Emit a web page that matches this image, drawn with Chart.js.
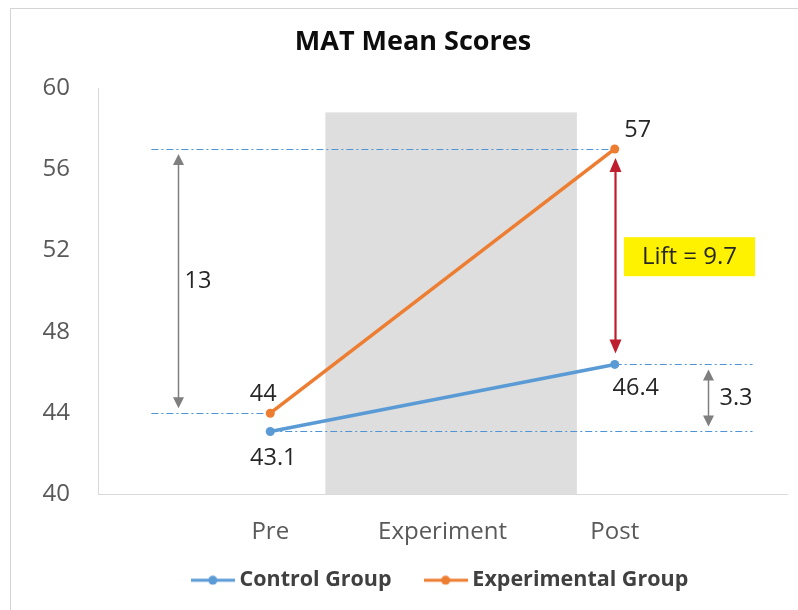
<!DOCTYPE html>
<html>
<head>
<meta charset="utf-8">
<script src="https://cdn.jsdelivr.net/npm/chart.js@4.4.1/dist/chart.umd.min.js"></script>
<style>
  html, body { margin: 0; padding: 0; background: #fff; overflow: hidden; }
  #frame {
    position: absolute; left: 10px; top: 8px;
    width: 806px; height: 602px;
    border-top: 1px solid #d4d4d4; border-left: 1px solid #d4d4d4;
  }
  canvas { display: block; }
</style>
</head>
<body>
<div id="frame"><canvas id="chart" width="806" height="601"></canvas></div>
<script>
// ---- data ----
const categories = ["", "Pre", "Experiment", "Post", ""];
const controlScores = [null, 43.1, null, 46.4, null];
const experimentalScores = [null, 44, null, 57, null];
const yMin = 40;
const yMax = 60;
const yStep = 4;

// shaded experiment period (category units) and its top value
const bandSpan = [1.32, 2.78];
const bandTop = 58.8;

// dash-dot guide lines: [value, from, to] in category units
const guideLines = [
  [57, 0.31, 3],
  [44, 0.31, 1],
  [46.4, 3, 3.8],
  [43.1, 1, 3.8],
];

// gap arrows: x in category units, from/to values
const gapArrows = [
  { at: 0.465, from: 57, to: 44, text: "13" },
  { at: 3.54, from: 46.4, to: 43.1, text: "3.3" },
];
const liftArrow = { at: 3, from: 57, to: 46.4, text: "Lift = 9.7" };

const BLUE = "#5B9BD5";
const ORANGE = "#ED7D31";
const FONT = "'Open Sans', Lato, sans-serif";

// legend icon: short line with a dot in the middle
function legendIcon(color) {
  const c = document.createElement("canvas");
  c.width = 44;
  c.height = 10;
  const g = c.getContext("2d");
  g.strokeStyle = color;
  g.lineWidth = 3;
  g.beginPath();
  g.moveTo(0, 5);
  g.lineTo(44, 5);
  g.stroke();
  g.fillStyle = color;
  g.beginPath();
  g.arc(22, 5, 4.5, 0, Math.PI * 2);
  g.fill();
  return c;
}

function head(ctx, x, y, dir, w, len) {
  // dir -1: tip points up, +1: tip points down
  ctx.beginPath();
  ctx.moveTo(x, y);
  ctx.lineTo(x - w / 2, y - dir * len);
  ctx.lineTo(x + w / 2, y - dir * len);
  ctx.closePath();
  ctx.fill();
}

function doubleArrow(ctx, x, yTop, yBot, color, lw, hw, hl) {
  ctx.save();
  ctx.strokeStyle = color;
  ctx.fillStyle = color;
  ctx.lineWidth = lw;
  ctx.beginPath();
  ctx.moveTo(x, yTop + hl - 1);
  ctx.lineTo(x, yBot - hl + 1);
  ctx.stroke();
  head(ctx, x, yTop, -1, hw, hl);
  head(ctx, x, yBot, 1, hw, hl);
  ctx.restore();
}

const annotations = {
  id: "annotations",
  afterLayout(chart) {
    // the x axis box is kept short so the legend sits close; let its labels
    // run past the box instead of being clipped
    chart.scales.x.bottom = chart.height;
  },
  beforeDatasetsDraw(chart) {
    const { ctx, scales: { x, y } } = chart;
    // grey band
    ctx.save();
    ctx.fillStyle = "#DEDEDE";
    const bx0 = x.getPixelForValue(bandSpan[0]);
    const bx1 = x.getPixelForValue(bandSpan[1]);
    const by0 = y.getPixelForValue(bandTop);
    const by1 = y.getPixelForValue(yMin);
    ctx.fillRect(bx0, by0, bx1 - bx0, by1 - by0);

    // dash-dot guide lines
    ctx.strokeStyle = "#4F95D6";
    ctx.lineWidth = 1;
    ctx.setLineDash([7, 3, 2, 3]);
    guideLines.forEach(([v, a, b]) => {
      const py = Math.round(y.getPixelForValue(v)) + 0.5;
      ctx.beginPath();
      ctx.moveTo(x.getPixelForValue(a), py);
      ctx.lineTo(x.getPixelForValue(b), py);
      ctx.stroke();
    });
    ctx.restore();
  },
  afterDatasetsDraw(chart) {
    const { ctx, scales: { x, y } } = chart;
    ctx.save();

    // grey gap arrows and their labels
    gapArrows.forEach((g, i) => {
      const px = Math.round(x.getPixelForValue(g.at)) + 0.5;
      const top = y.getPixelForValue(g.from) + 5;
      const bot = y.getPixelForValue(g.to) - 5;
      doubleArrow(ctx, px, top, bot, "#7F7F7F", 1.5, 11, 11);
      ctx.fillStyle = "#262626";
      ctx.font = "23.5px " + FONT;
      ctx.textAlign = "left";
      ctx.textBaseline = "middle";
      ctx.fillText(g.text, px + (i === 0 ? 6 : 11), (top + bot) / 2);
    });

    // red lift arrow
    const lx = Math.round(x.getPixelForValue(liftArrow.at)) + 0.5;
    const lTop = y.getPixelForValue(liftArrow.from) + 9;
    const lBot = y.getPixelForValue(liftArrow.to) - 11;
    doubleArrow(ctx, lx, lTop, lBot, "#BE1E2D", 2.2, 12, 14);

    // lift label box
    ctx.font = "24px " + FONT;
    const tw = ctx.measureText(liftArrow.text).width;
    const cx = lx + 74;
    const cy = (y.getPixelForValue(liftArrow.from) + y.getPixelForValue(liftArrow.to)) / 2;
    const bw = tw + 36;
    const bh = 39;
    ctx.fillStyle = "#FFF200";
    ctx.fillRect(cx - bw / 2, cy - bh / 2, bw, bh);
    ctx.fillStyle = "#262626";
    ctx.textAlign = "center";
    ctx.textBaseline = "middle";
    ctx.fillText(liftArrow.text, cx, cy);

    // data labels
    ctx.font = "23.5px " + FONT;
    const offsets = [
      [[0, 0], [3, 27], [0, 0], [21, 24], [0, 0]],
      [[0, 0], [-7, -19], [0, 0], [23, -19], [0, 0]],
    ];
    chart.data.datasets.forEach((ds, di) => {
      const meta = chart.getDatasetMeta(di);
      meta.data.forEach((pt, i) => {
        const v = ds.data[i];
        if (v === null) return;
        ctx.fillText(String(v), pt.x + offsets[di][i][0], pt.y + offsets[di][i][1]);
      });
    });
    ctx.restore();
  },
};

new Chart(document.getElementById("chart"), {
  type: "line",
  data: {
    labels: categories,
    datasets: [
      {
        label: "Control Group",
        data: controlScores,
        borderColor: BLUE,
        backgroundColor: BLUE,
        borderWidth: 3.5,
        pointRadius: 4.5,
        pointBorderWidth: 0,
        spanGaps: true,
        tension: 0,
      },
      {
        label: "Experimental Group",
        data: experimentalScores,
        borderColor: ORANGE,
        backgroundColor: ORANGE,
        borderWidth: 3.5,
        pointRadius: 4.5,
        pointBorderWidth: 0,
        spanGaps: true,
        tension: 0,
      },
    ],
  },
  options: {
    responsive: false,
    animation: false,
    devicePixelRatio: 1,
    layout: { padding: { left: 28, right: 30, top: 0, bottom: 9 } },
    plugins: {
      tooltip: { enabled: false },
      title: {
        display: true,
        text: "MAT Mean Scores",
        color: "#0D0D0D",
        font: { family: FONT, size: 27, weight: "bold", lineHeight: 1.2 },
        padding: { top: 16.8, bottom: 29.8 },
      },
      legend: {
        position: "bottom",
        fullSize: false,
        labels: {
          color: "#404040",
          font: { family: FONT, size: 21.5, weight: "bold" },
          usePointStyle: true,
          pointStyleWidth: 32,
          padding: 38,
          generateLabels(chart) {
            const items = Chart.defaults.plugins.legend.labels.generateLabels(chart);
            items.forEach((it) => {
              it.pointStyle = legendIcon(chart.data.datasets[it.datasetIndex].borderColor);
            });
            return items;
          },
        },
      },
    },
    scales: {
      x: {
        type: "category",
        offset: false,
        grid: { display: false, drawTicks: false },
        border: { display: true, color: "#D9D9D9", width: 1 },
        ticks: {
          color: "#595959",
          font: { family: FONT, size: 24 },
          padding: 23,
          autoSkip: false,
          maxRotation: 0,
        },
        afterFit(scale) { scale.height = 37; },
      },
      y: {
        min: yMin,
        max: yMax,
        grid: { display: false, drawTicks: false },
        border: { display: true, color: "#D9D9D9", width: 1 },
        ticks: {
          stepSize: yStep,
          color: "#595959",
          font: { family: FONT, size: 24 },
          padding: 28,
        },
        afterFit(scale) { scale.width = 59; },
      },
    },
  },
  plugins: [annotations],
});
</script>
</body>
</html>
